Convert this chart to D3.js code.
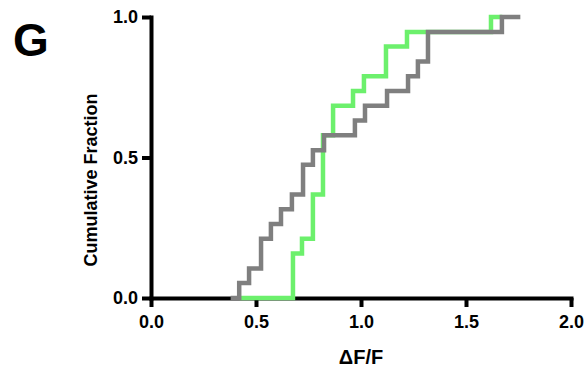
<!DOCTYPE html>
<html>
<head>
<meta charset="utf-8">
<script src="https://cdn.jsdelivr.net/npm/d3@7"></script>
<style>
  html, body { margin: 0; padding: 0; background: #fff; }
  svg { display: block; font-family: "Liberation Sans", Arial, sans-serif; }
</style>
</head>
<body>
<svg id="chart" width="588" height="368"></svg>
<script>
// ---- data ----
const xTicks = [0, 0.5, 1.0, 1.5, 2.0];
const yTicks = [0, 0.5, 1.0];

const grayX = [0.39, 0.42, 0.467, 0.524, 0.571, 0.619, 0.671, 0.724, 0.771, 0.824, 0.971, 1.019, 1.124, 1.224, 1.271, 1.319, 1.671, 1.748];
const grayY = [0, 0.053, 0.105, 0.211, 0.263, 0.316, 0.368, 0.474, 0.526, 0.579, 0.632, 0.684, 0.737, 0.789, 0.842, 0.947, 1.0, 1.0];

const greenX = [0.433, 0.676, 0.719, 0.771, 0.819, 0.867, 0.962, 1.014, 1.119, 1.219, 1.619, 1.662];
const greenY = [0, 0.158, 0.211, 0.368, 0.579, 0.684, 0.737, 0.789, 0.895, 0.947, 1.0, 1.0];

const panelLabel = "G";
const xLabel = "ΔF/F";
const yLabel = "Cumulative Fraction";

// ---- drawing ----
const svg = d3.select("#chart");
const x = d3.scaleLinear().domain([0, 2]).range([151, 571]);
const y = d3.scaleLinear().domain([0, 1]).range([298, 17]);

const line = d3.line()
  .x(d => x(d[0]))
  .y(d => y(d[1]))
  .curve(d3.curveStepAfter);

const series = [
  { xs: greenX, ys: greenY, color: "#6cf06c" },
  { xs: grayX, ys: grayY, color: "#7f7f7f" }
];

// axes
const xAxis = svg.append("g")
  .attr("transform", `translate(0,${y(0)})`)
  .call(d3.axisBottom(x).tickValues(xTicks).tickFormat(d3.format(".1f")).tickSize(9).tickSizeOuter(0).tickPadding(8));
const yAxis = svg.append("g")
  .attr("transform", `translate(${x(0)},0)`)
  .call(d3.axisLeft(y).tickValues(yTicks).tickFormat(d3.format(".1f")).tickSize(9).tickSizeOuter(0).tickPadding(4));

[xAxis, yAxis].forEach(g => {
  g.select(".domain").attr("stroke", "#000").attr("stroke-width", 4).attr("stroke-linecap", "square");
  g.selectAll(".tick line").attr("stroke", "#000").attr("stroke-width", 4);
  g.selectAll(".tick text").attr("fill", "#000").attr("font-size", 18).attr("font-weight", "bold")
    .attr("font-family", "'Liberation Sans', Arial, sans-serif");
});

// data lines (gray on top)
series.forEach(s => {
  const pts = s.xs.map((v, i) => [v, s.ys[i]]);
  svg.append("path")
    .attr("d", line(pts))
    .attr("fill", "none")
    .attr("stroke", s.color)
    .attr("stroke-width", 4.5)
    .attr("stroke-linejoin", "miter")
    .attr("stroke-linecap", "square");
});

// labels
svg.append("text")
  .attr("x", 13).attr("y", 56)
  .attr("font-size", 46).attr("font-weight", "bold")
  .text(panelLabel);

svg.append("text")
  .attr("x", 361).attr("y", 364)
  .attr("text-anchor", "middle")
  .attr("font-size", 20).attr("font-weight", "bold")
  .text(xLabel);

svg.append("text")
  .attr("transform", "translate(97,180) rotate(-90)")
  .attr("text-anchor", "middle")
  .attr("font-size", 18).attr("font-weight", "bold")
  .text(yLabel);
</script>
</body>
</html>
